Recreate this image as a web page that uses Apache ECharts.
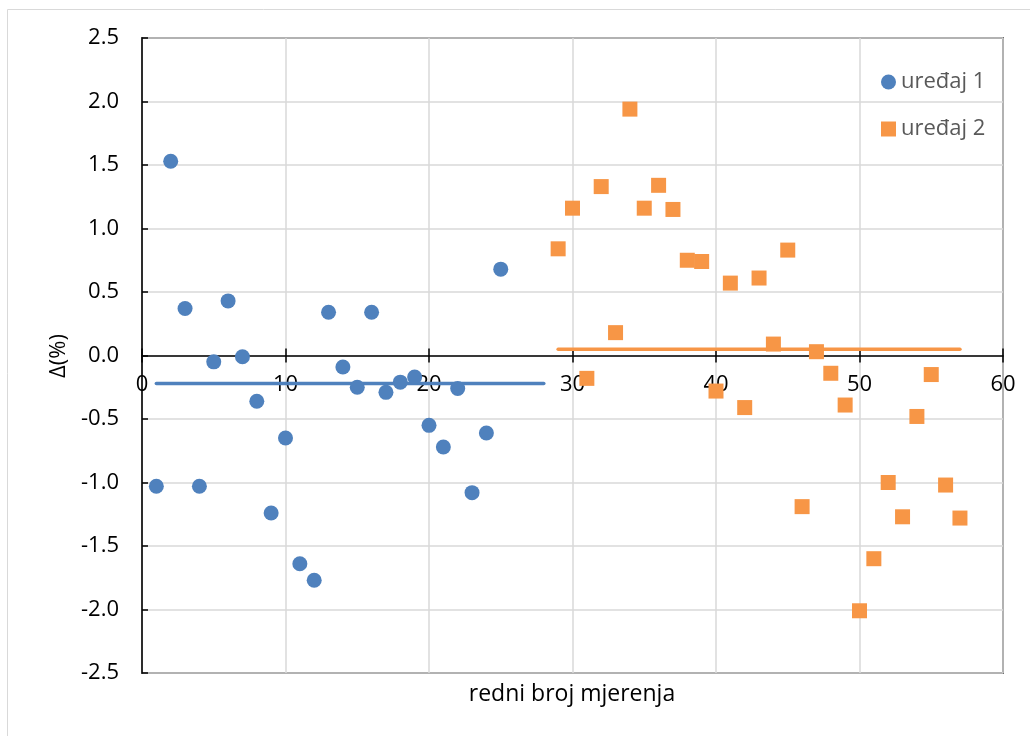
<!DOCTYPE html>
<html>
<head>
<meta charset="utf-8">
<script src="https://cdn.jsdelivr.net/npm/echarts@6/dist/echarts.min.js"></script>
<style>
    html, body { margin: 0; padding: 0; background: #fff; }
    #chart { width: 1030px; height: 736px; }
</style>
</head>
<body>
<div id="chart"></div>
<script>
    // redni broj mjerenja za svaki uređaj
    const x1 = [1, 2, 3, 4, 5, 6, 7, 8, 9, 10, 11, 12, 13, 14, 15, 16, 17, 18, 19, 20, 21, 22, 23, 24, 25]
    const y1 = [-1.03, 1.53, 0.37, -1.03, -0.05, 0.43, -0.01, -0.36, -1.24, -0.65, -1.64, -1.77, 0.34,
        -0.09, -0.25, 0.34, -0.29, -0.21, -0.17, -0.55, -0.72, -0.26, -1.08, -0.61, 0.68]
    const x2 = [29, 30, 31, 32, 33, 34, 35, 36, 37, 38, 39, 40, 41, 42, 43, 44, 45, 46, 47, 48, 49,
        50, 51, 52, 53, 54, 55, 56, 57]
    const y2 = [0.84, 1.16, -0.18, 1.33, 0.18, 1.94, 1.16, 1.34, 1.15, 0.75, 0.74, -0.28, 0.57, -0.41,
        0.61, 0.09, 0.83, -1.19, 0.03, -0.14, -0.39, -2.01, -1.60, -1.00, -1.27, -0.48, -0.15, -1.02, -1.28]
    // horizontalne linije (srednja vrijednost)
    const lineX1 = [1, 28]
    const lineY1 = [-0.22, -0.22]
    const lineX2 = [29, 57]
    const lineY2 = [0.05, 0.05]
    const seriesNames = ['uređaj 1', 'uređaj 2']
    const xTicks = [0, 10, 20, 30, 40, 50, 60]
    const yTicks = [-2.5, -2.0, -1.5, -1.0, -0.5, 0.0, 0.5, 1.0, 1.5, 2.0, 2.5]

    const blue = '#4f81bd'
    const orange = '#f79646'
    const font = '"Open Sans", "Noto Sans", sans-serif'
    const fs = 22

    const zip = (xs, ys) => xs.map((x, i) => [x, ys[i]])

    // x os leži na nuli: pomak od donjeg ruba grida do y = 0
    const plotH = 736 - 38 - 63
    const zeroOffset = -plotH * (0 - yTicks[0]) / (yTicks[yTicks.length - 1] - yTicks[0])

    const chart = echarts.init(document.getElementById('chart'))
    const option = {
        animation: false,
        textStyle: {fontFamily: font},
        grid: {
            left: 142, top: 38, right: 27, bottom: 63,
            show: true,
            borderColor: '#000',
            borderWidth: 1.5
        },
        legend: {
            data: seriesNames,
            orient: 'vertical',
            left: 876,
            top: 66,
            itemWidth: 15,
            itemHeight: 15,
            itemGap: 25,
            textStyle: {fontSize: fs, color: '#595959', fontFamily: font}
        },
        xAxis: [{
            type: 'value',
            min: xTicks[0],
            max: xTicks[xTicks.length - 1],
            interval: 10,
            offset: zeroOffset,
            axisLine: {onZero: false, lineStyle: {color: '#000', width: 1.5}},
            axisTick: {show: true, length: 7, lineStyle: {color: '#000', width: 1.5}},
            axisLabel: {fontSize: fs, color: '#000', margin: 18},
            splitLine: {show: true, lineStyle: {color: '#d9d9d9', width: 1.5}}
        }, {
            type: 'value',
            min: xTicks[0],
            max: xTicks[xTicks.length - 1],
            interval: 10,
            position: 'bottom',
            offset: zeroOffset,
            axisLine: {onZero: false, show: false},
            axisTick: {show: true, inside: true, length: 7, lineStyle: {color: '#000', width: 1.5}},
            axisLabel: {show: false},
            splitLine: {show: false}
        }],
        yAxis: {
            type: 'value',
            min: yTicks[0],
            max: yTicks[yTicks.length - 1],
            interval: 0.5,
            axisLine: {show: true, lineStyle: {color: '#000', width: 1.5}},
            axisTick: {show: true, inside: true, length: 6, lineStyle: {color: '#000', width: 1.5}},
            axisLabel: {
                fontSize: fs, color: '#000', margin: 23,
                formatter: v => v.toFixed(1)
            },
            splitLine: {show: true, lineStyle: {color: '#d9d9d9', width: 1.5}}
        },
        graphic: [
            {
                type: 'rect', silent: true, z: -10,
                shape: {x: 7.5, y: 9.5, width: 1040, height: 760},
                style: {fill: 'none', stroke: '#d9d9d9', lineWidth: 1}
            },
            {
                type: 'text', x: 572, y: 694,
                style: {text: 'redni broj mjerenja', fontSize: 23, fontFamily: font, fill: '#000',
                    align: 'center', verticalAlign: 'middle'}
            },
            {
                type: 'text', x: 59, y: 356, rotation: Math.PI / 2,
                style: {text: 'Δ(%)', fontSize: fs, fontFamily: font, fill: '#000',
                    align: 'center', verticalAlign: 'middle'}
            }
        ],
        series: [
            {
                name: seriesNames[0],
                type: 'scatter',
                symbol: 'circle',
                symbolSize: 15,
                itemStyle: {color: blue, opacity: 1},
                data: zip(x1, y1),
                z: 3
            },
            {
                name: seriesNames[1],
                type: 'scatter',
                symbol: 'rect',
                symbolSize: 15,
                itemStyle: {color: orange, opacity: 1},
                data: zip(x2, y2),
                z: 3
            },
            {
                type: 'line',
                data: zip(lineX1, lineY1),
                showSymbol: false,
                lineStyle: {color: blue, width: 3.5, cap: 'round'},
                z: 2
            },
            {
                type: 'line',
                data: zip(lineX2, lineY2),
                showSymbol: false,
                lineStyle: {color: orange, width: 3.5, cap: 'round'},
                z: 2
            }
        ]
    }
    chart.setOption(option)
</script>
</body>
</html>
